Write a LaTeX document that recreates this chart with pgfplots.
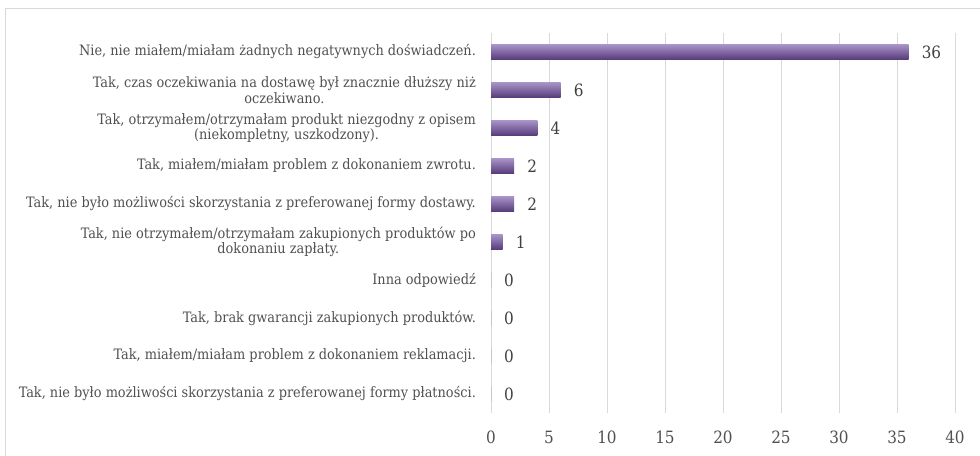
\documentclass[border=0pt]{standalone}
\usepackage{fontspec}
\setmainfont{DejaVu Serif Condensed}
\usepackage{pgfplots}
\pgfplotsset{compat=1.18}
\definecolor{gridc}{HTML}{D9D9D9}
\definecolor{barTop}{HTML}{A893C8}
\definecolor{barBot}{HTML}{563B79}
\definecolor{lblc}{HTML}{505050}
\definecolor{valc}{HTML}{404040}
\begin{document}
\begin{tikzpicture}
\path[use as bounding box] (0,0) rectangle (980bp,456bp);
\draw[gridc, line width=1bp] (5bp,-5bp) -- (5bp,447bp) -- (985bp,447bp);
\begin{axis}[
  at={(491bp,43bp)}, anchor=south west,
  scale only axis, width=464bp, height=380bp,
  xmin=0, xmax=40, ymin=0.5, ymax=10.5, y dir=reverse,
  xtick={0,5,...,40}, ytick={1,...,10},
  yticklabels={
    {Nie, nie miałem/miałam żadnych negatywnych doświadczeń.},
    {Tak, czas oczekiwania na dostawę był znacznie dłuższy niż\\oczekiwano.},
    {Tak, otrzymałem/otrzymałam produkt niezgodny z opisem\\(niekompletny, uszkodzony).},
    {Tak, miałem/miałam problem z dokonaniem zwrotu.},
    {Tak, nie było możliwości skorzystania z preferowanej formy dostawy.},
    {Tak, nie otrzymałem/otrzymałam zakupionych produktów po\\dokonaniu zapłaty.},
    {Inna odpowiedź},
    {Tak, brak gwarancji zakupionych produktów.},
    {Tak, miałem/miałam problem z dokonaniem reklamacji.},
    {Tak, nie było możliwości skorzystania z preferowanej formy płatności.}
  },
  axis line style={draw=none},
  major tick length=0pt,
  xmajorgrids, grid style={gridc, line width=1bp},
  /pgf/number format/assume math mode=true,
  yticklabel style={align=center, inner sep=0pt, xshift=-15bp, font=\fontsize{14.4}{15.5}\selectfont, text=lblc},
  xticklabel style={inner sep=0pt, yshift=-18bp, font=\fontsize{17}{19}\selectfont, text=lblc},
  xbar, bar width=15bp, bar shift=0pt,
  nodes near coords,
  every node near coord/.append style={anchor=west, inner sep=0pt, xshift=13bp, font=\fontsize{17}{19}\selectfont, text=valc},
  shadedbar/.style={draw=none, top color=barTop, bottom color=barBot},
  zerobar/.style={draw=none, fill=barBot},
]
\addplot[shadedbar] coordinates {(36,1)};
\addplot[shadedbar] coordinates {(6,2)};
\addplot[shadedbar] coordinates {(4,3)};
\addplot[shadedbar] coordinates {(2,4)};
\addplot[shadedbar] coordinates {(2,5)};
\addplot[shadedbar] coordinates {(1,6)};
\addplot[zerobar] coordinates {(0,7)};
\addplot[zerobar] coordinates {(0,8)};
\addplot[zerobar] coordinates {(0,9)};
\addplot[zerobar] coordinates {(0,10)};
\end{axis}
\end{tikzpicture}
\end{document}
